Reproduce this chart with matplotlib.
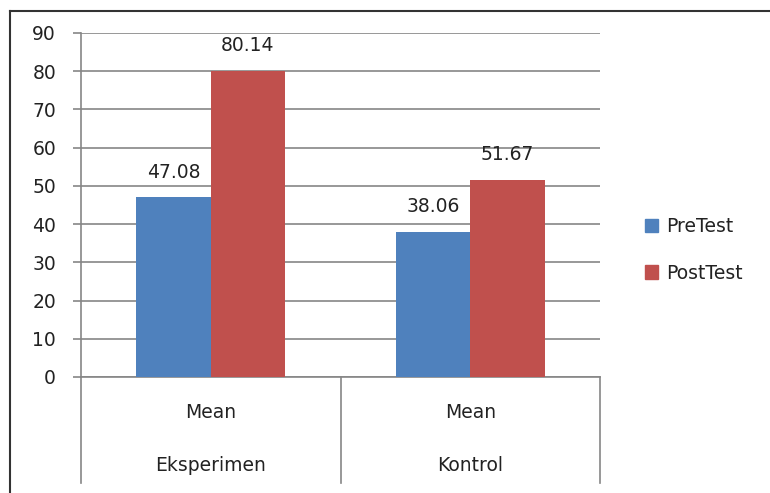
import numpy as np
import matplotlib.pyplot as plt
from matplotlib.patches import Patch
from matplotlib.lines import Line2D

# data
groups = ['Eksperimen', 'Kontrol']
stat_label = 'Mean'
series = ['PreTest', 'PostTest']
pretest = [47.08, 38.06]
posttest = [80.14, 51.67]
colors = ['#4F81BD', '#C0504D']
yticks = list(range(0, 100, 10))

plt.rcParams['font.family'] = 'DejaVu Sans'
fs = 13.5
grid_c = '#868686'

fig = plt.figure(figsize=(7.7, 4.93), dpi=100)
ax = fig.add_axes([81/770, 1-377/493, 519/770, 344/493])

x = np.arange(len(groups))
w = 0.287
b1 = ax.bar(x - w/2, pretest, w, color=colors[0], zorder=3)
b2 = ax.bar(x + w/2, posttest, w, color=colors[1], zorder=3)

for bars, vals in ((b1, pretest), (b2, posttest)):
    for r, v in zip(bars, vals):
        ax.annotate('%.2f' % v, (r.get_x() + r.get_width()/2, v),
                    xytext=(0, 18), textcoords='offset points',
                    ha='center', va='center', fontsize=fs, color='#222222')

ax.set_xlim(-0.5, 1.5)
ax.set_ylim(0, 90)
ax.set_yticks(yticks)
ax.yaxis.grid(True, color=grid_c, lw=1.2, zorder=0)
ax.tick_params(axis='y', length=6, width=1.2, color=grid_c, pad=12,
               labelsize=fs, labelcolor='#222222')
ax.set_xticks([])
for s in ['top', 'right']:
    ax.spines[s].set_visible(False)
for s in ['left', 'bottom']:
    ax.spines[s].set_color(grid_c)
    ax.spines[s].set_linewidth(1.2)

# category separators and two-level labels
tr = ax.get_xaxis_transform()
for xs in [-0.5, 0.5, 1.5]:
    ax.plot([xs, xs], [0, -0.308], transform=tr, color=grid_c, lw=1.2, clip_on=False)
for xi, g in zip(x, groups):
    ax.text(xi, -0.103, stat_label, transform=tr, ha='center', va='center',
            fontsize=fs, color='#222222')
    ax.text(xi, -0.258, g, transform=tr, ha='center', va='center',
            fontsize=fs, color='#222222')

# legend
handles = [Patch(color=c, label=s) for c, s in zip(colors, series)]
fig.legend(handles=handles, loc='center left', bbox_to_anchor=(628/770, 1-250/493),
           frameon=False, fontsize=fs, handlelength=0.7, handleheight=0.7,
           handletextpad=0.45, labelspacing=1.45, labelcolor='#222222')

# outer chart border (left and top visible)
fig.add_artist(Line2D([10/770, 10/770], [0, 1-11/493], color='#333333', lw=1.5))
fig.add_artist(Line2D([10/770, 1], [1-11/493, 1-11/493], color='#333333', lw=1.5))

fig.savefig('out.png', dpi=100)
